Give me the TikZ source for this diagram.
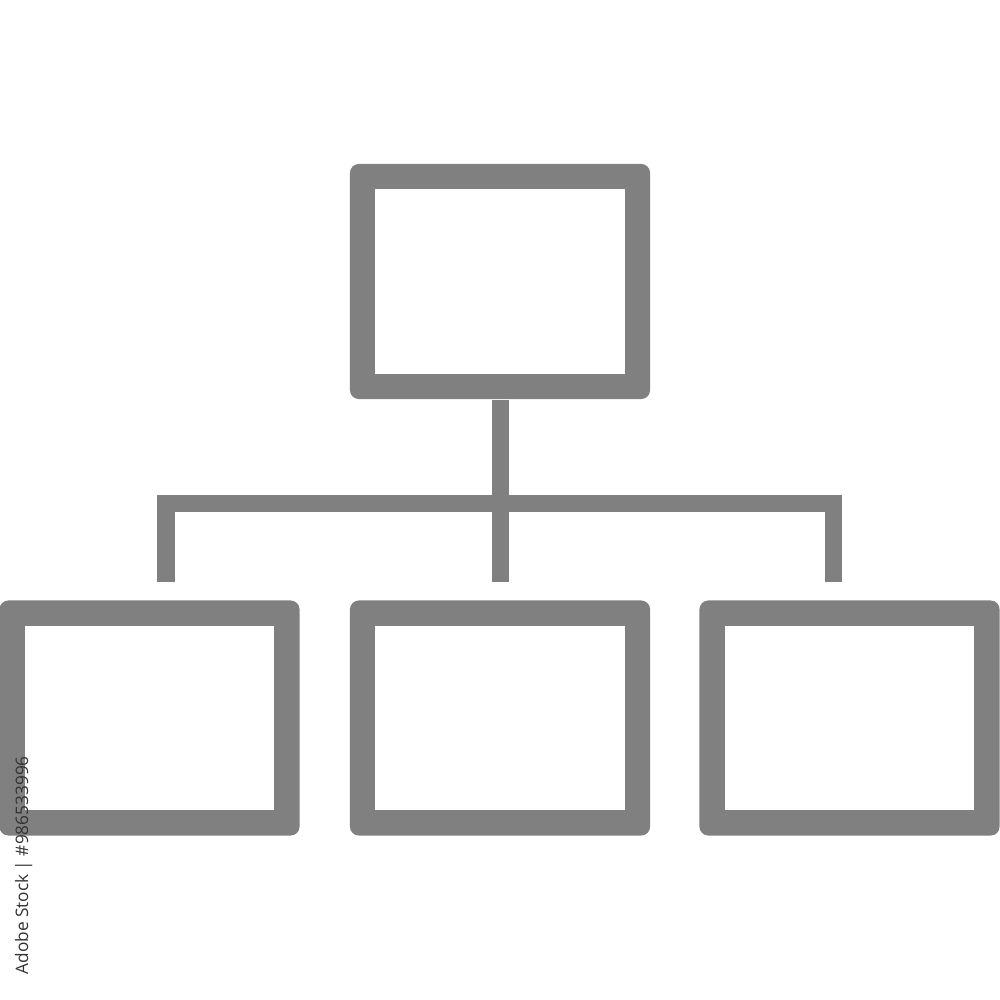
\documentclass[tikz,border=0pt]{standalone}
\usepackage{fontspec}
\newfontfamily\wmfont{Open Sans}
\definecolor{icongray}{HTML}{808080}
\definecolor{wmgray}{HTML}{333333}
\begin{document}
\begin{tikzpicture}[x=0.01cm,y=-0.01cm,
  outerbox/.style={rectangle, fill=icongray, rounded corners=0.09cm, inner sep=0pt,
    minimum width=3cm, minimum height=2.35cm},
  innerbox/.style={rectangle, fill=white, inner sep=0pt,
    minimum width=2.49cm, minimum height=1.84cm},
  link/.style={draw=icongray, line width=0.17cm, line join=miter}]
\useasboundingbox[fill=white] (0,0) rectangle (1000,1000);
% boxes
\node[outerbox] (top) at (500,281.5) {};
\node[innerbox] (topin) at (top.center) {};
\node[outerbox] (left) at (149.5,718) {};
\node[innerbox] (leftin) at (left.center) {};
\node[outerbox] (mid) at (500,718) {};
\node[innerbox] (midin) at (mid.center) {};
\node[outerbox] (right) at (849.5,718) {};
\node[innerbox] (rightin) at (right.center) {};
% connectors
\coordinate (hub) at (500,503.5);
\coordinate (lend) at (166,582);
\coordinate (mend) at (500,582);
\coordinate (rend) at (833.5,582);
\draw[link] (top.south) -- (hub);
\draw[link] (lend) |- (hub) -| (rend);
\draw[link] (hub) -- (mend);
% watermark id text
\node[rotate=90, anchor=base west, inner sep=0pt, text=wmgray, font=\wmfont\fontsize{4.9}{6}\selectfont] (wm) at (28,975) {Adobe Stock | \#986533996};
\end{tikzpicture}
\end{document}
